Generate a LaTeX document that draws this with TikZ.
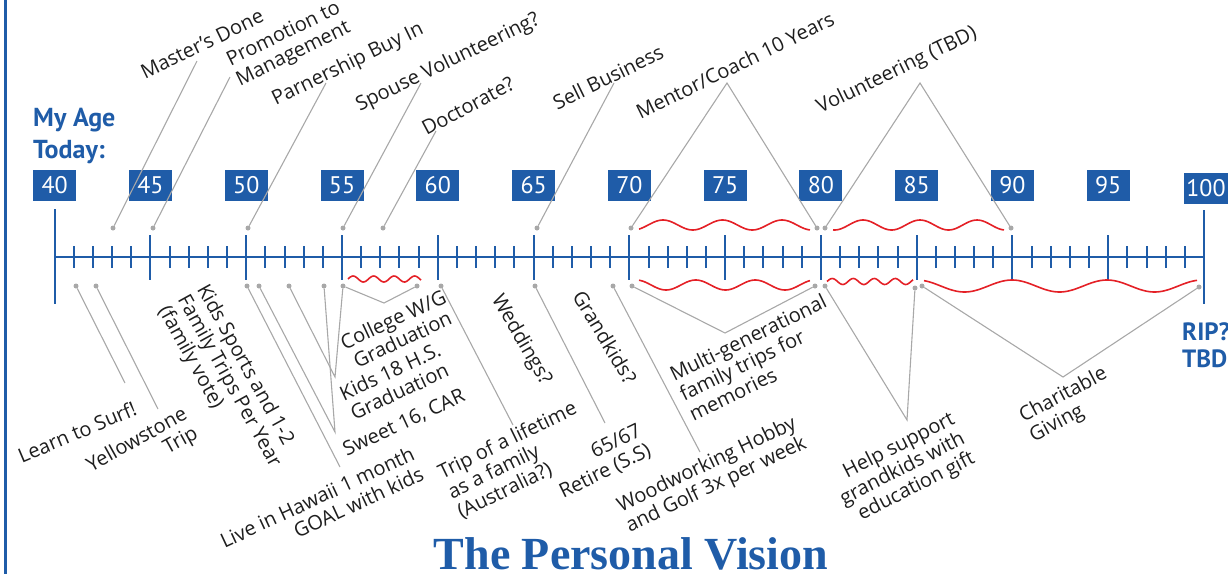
\documentclass[tikz,border=0pt]{standalone}
\usepackage{fontspec}
\setmainfont{Open Sans}
\newfontfamily\agefont{PT Sans}
\newfontfamily\titlefont{Liberation Serif}
\usetikzlibrary{positioning}
\definecolor{vblue}{RGB}{31,92,168}
\definecolor{wavered}{RGB}{228,32,38}
\definecolor{leadgray}{RGB}{168,168,168}
\definecolor{ink}{RGB}{30,30,30}

\begin{document}
\begin{tikzpicture}[x=1pt, y=-1pt,
    agebox/.style={fill=vblue, text=white, minimum width=43pt, minimum height=31pt,
        inner sep=0pt, font=\agefont\fontsize{24}{24}\selectfont},
    pin/.style={circle, fill=leadgray, minimum size=5pt, inner sep=0pt},
    lead/.style={leadgray, line width=1.1pt},
    note/.style={text=ink, inner sep=0pt, font=\fontsize{20}{22}\selectfont},
    wave/.style={wavered, line width=1.6pt, smooth},
    tick/.style={vblue, line width=2pt}]

\useasboundingbox (0,0) rectangle (1228,574);
\draw[vblue, line width=2.5pt] (5.5,0) -- (5.5,574);

% the time line
\draw[tick] (54.7,257) -- (1204,257);
\draw[tick] (54.7,209) -- (54.7,304);
\draw[tick] (1204,210) -- (1204,304);
\foreach \i in {1,...,59}
    \draw[tick] ({54.7+19.155*\i},246) -- ({54.7+19.155*\i},268);
\foreach \i in {5,10,...,55}
    \draw[tick] ({54.7+19.155*\i},235) -- ({54.7+19.155*\i},280);

\foreach \a [count=\k from 0] in {40,45,...,95}
    \node[agebox] (age\a) at ({54.7+95.775*\k},185.5) {\a};
\node[agebox, minimum width=44pt] (age100) at (1206,188.5) {100};

\node[above right=6pt and 0pt of age40.north west, align=left, inner sep=0pt,
    text=vblue, font=\agefont\bfseries\fontsize{26}{32}\selectfont] (myage) {My Age\\Today:};
\node[anchor=north west, align=left, inner sep=0pt, text=vblue,
    font=\agefont\bfseries\fontsize{25}{27}\selectfont] (rip) at (1182,322) {RIP?\\TBD};

\node[anchor=base, text=vblue, font=\titlefont\bfseries\fontsize{46}{50}\selectfont]
    (title) at (631,569) {The Personal Vision};

% above the line
\node[note, rotate=26] (masters) at (202,44) {Master's Done};
\node[note, rotate=26] (promotion) at (289,45) {
    \begin{tabular}{c}
    Promotion to\\
    Management
    \end{tabular}
    };
\node[note, rotate=26] (partnership) at (348,65) {Parnership Buy In};
\node[note, rotate=26] (spouse) at (448,63) {Spouse Volunteering?};
\node[note, rotate=28] (doctorate) at (468,106) {Doctorate?};
\node[note, rotate=26] (sell) at (608,77) {Sell Business};
\node[note, rotate=26] (mentor) at (735,65) {Mentor/Coach 10 Years};
\node[note, rotate=26] (volunteer) at (897,71) {Volunteering (TBD)};

\node[pin] (mastersP) at (113,228) {};
\node[pin] (promotionP) at (153,228) {};
\node[pin] (partnershipP) at (248,228) {};
\node[pin] (spouseP) at (343,228) {};
\node[pin] (doctorateP) at (383,228) {};
\node[pin] (sellP) at (537,228) {};
\node[pin] (mentorP) at (631,228) {};
\node[pin] (mentorQ) at (817,228) {};
\node[pin] (volunteerP) at (825,228) {};
\node[pin] (volunteerQ) at (1011,228) {};

\coordinate (mastersE) at (197,61);
\coordinate (promotionE) at (230,77);
\coordinate (partnershipE) at (326,83);
\coordinate (spouseE) at (421,83);
\coordinate (doctorateE) at (436,131);
\coordinate (sellE) at (614,83);
\coordinate (mentorV) at (727,83);
\coordinate (volunteerV) at (920,83);

\draw[lead] (mastersP) -- (mastersE);
\draw[lead] (promotionP) -- (promotionE);
\draw[lead] (partnershipP) -- (partnershipE);
\draw[lead] (spouseP) -- (spouseE);
\draw[lead] (doctorateP) -- (doctorateE);
\draw[lead] (sellP) -- (sellE);
\draw[lead] (mentorP) -- (mentorV) -- (mentorQ);
\draw[lead] (volunteerP) -- (volunteerV) -- (volunteerQ);

\draw[wave] plot[domain=639:810, samples=90] (\x, {225-5*cos((\x-663)/59.5*360)});
\draw[wave] plot[domain=833:1004, samples=90] (\x, {225-5*cos((\x-863)/57*360)});

% below the line
\node[note, rotate=23] (surf) at (77,432) {Learn to Surf!};
\node[note, rotate=29] (yellowstone) at (143,451) {
    \begin{tabular}{r}
    Yellowstone\\
    Trip
    \end{tabular}
    };
\node[note, rotate=-61] (kidssports) at (228,382) {
    \begin{tabular}{l}
    Kids Sports and 1-2\\
    Family Trips Per Year\\
    (family vote)
    \end{tabular}
    };
\node[note, rotate=25] (hawaii) at (323,510) {
    \begin{tabular}{r}
    Live in Hawaii 1 month\\
    GOAL with kids
    \end{tabular}
    };
\node[note, rotate=25] (college) at (399,332) {
    \begin{tabular}{c}
    College W/G\\
    Graduation
    \end{tabular}
    };
\node[note, rotate=25] (kids18) at (396,384) {
    \begin{tabular}{c}
    Kids 18 H.S.\\
    Graduation
    \end{tabular}
    };
\node[note, rotate=25] (sweet) at (404,423) {Sweet 16, CAR};
\node[note, rotate=26] (trip) at (518,462) {
    \begin{tabular}{l}
    Trip of a lifetime\\
    as a family\\
    (Australia?)
    \end{tabular}
    };
\node[note, rotate=-60] (weddings) at (521,340) {Weddings?};
\node[note, rotate=26] (retire) at (601,463) {
    \begin{tabular}{r}
    65/67\\
    Retire (S.S)
    \end{tabular}
    };
\node[note, rotate=-59] (grandkids) at (605,337) {Grandkids?};
\node[note, rotate=25.5] (woodworking) at (712,476) {
    \begin{tabular}{c}
    Woodworking Hobby\\
    and Golf 3x per week
    \end{tabular}
    };
\node[note, rotate=26] (multigen) at (759,360) {
    \begin{tabular}{l}
    Multi-generational\\
    family trips for\\
    memories
    \end{tabular}
    };
\node[note, rotate=27] (helpsupport) at (903,470) {
    \begin{tabular}{r}
    Help support\\
    grandkids with\\
    education gift
    \end{tabular}
    };
\node[note, rotate=28] (charitable) at (1069,406) {
    \begin{tabular}{l}
    Charitable\\
    Giving
    \end{tabular}
    };

\node[pin] (surfP) at (76,286) {};
\node[pin] (yellowP) at (96,286) {};
\node[pin] (hawaiiP) at (247,286) {};
\node[pin] (sweetP) at (259,286) {};
\node[pin] (kidsP) at (289,286) {};
\node[pin] (sweetQ) at (324,286) {};
\node[pin] (kidsQ) at (343,286) {};
\node[pin] (collegeP) at (417,286) {};
\node[pin] (tripP) at (441,286) {};
\node[pin] (retireP) at (535,286) {};
\node[pin] (woodP) at (613,286) {};
\node[pin] (multiP) at (632,286) {};
\node[pin] (multiQ) at (815,286) {};
\node[pin] (helpP) at (825,286) {};
\node[pin] (helpQ) at (915,288) {};
\node[pin] (charityP) at (922,286) {};
\node[pin] (charityQ) at (1199,287) {};

\coordinate (surfE) at (125,383);
\coordinate (yellowE) at (158,409);
\coordinate (hawaiiE) at (340,467);
\coordinate (sweetE) at (335,432);
\coordinate (kidsE) at (335,377);
\coordinate (collegeV) at (384,303);
\coordinate (tripE) at (513,425);
\coordinate (retireE) at (605,423);
\coordinate (woodE) at (700,452);
\coordinate (multiV) at (725,333);
\coordinate (helpV) at (907,420);
\coordinate (charityV) at (1063,377);

\draw[lead] (surfP) -- (surfE);
\draw[lead] (yellowP) -- (yellowE);
\draw[lead] (hawaiiP) -- (hawaiiE);
\draw[lead] (sweetP) -- (sweetE) -- (sweetQ);
\draw[lead] (kidsP) -- (kidsE) -- (kidsQ);
\draw[lead] (kidsQ) -- (collegeV) -- (collegeP);
\draw[lead] (tripP) -- (tripE);
\draw[lead] (retireP) -- (retireE);
\draw[lead] (woodP) -- (woodE);
\draw[lead] (multiP) -- (multiV) -- (multiQ);
\draw[lead] (helpP) -- (helpV) -- (helpQ);
\draw[lead] (charityP) -- (charityV) -- (charityQ);

\draw[wave] plot[domain=348:421, samples=60] (\x, {279-3*sin((\x-348)/20.5*360)});
\draw[wave] plot[domain=639:810, samples=90] (\x, {285+5*cos((\x-666)/59.5*360)});
\draw[wave] plot[domain=827:913, samples=70] (\x, {281.5-3*sin((\x-827)/21*360)});
\draw[wave] plot[domain=924:1197, samples=120] (\x, {286-6*cos((\x-1012)/95*360)});

\end{tikzpicture}
\end{document}
